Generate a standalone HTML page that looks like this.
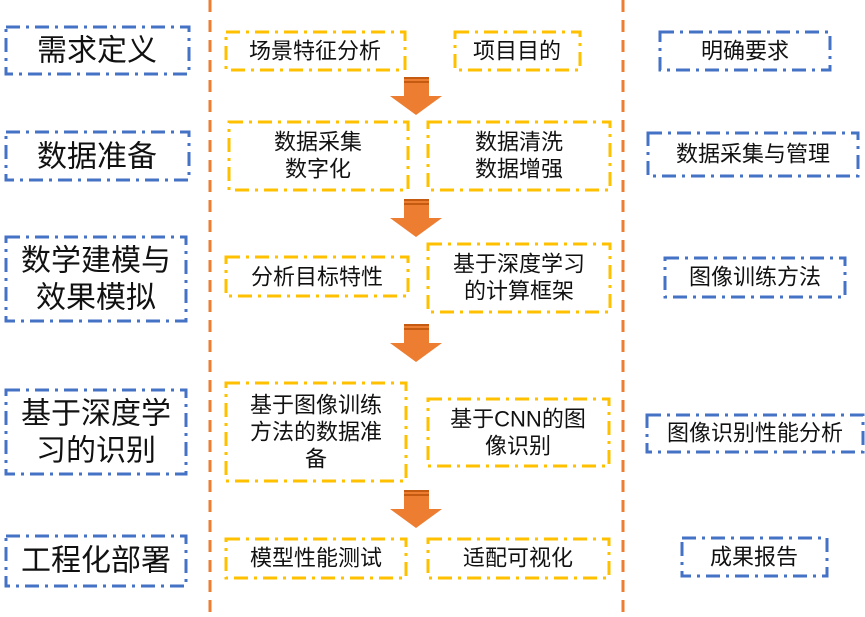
<!DOCTYPE html>
<html><head><meta charset="utf-8"><style>
body{margin:0;width:865px;height:612px;background:#fff;overflow:hidden}
svg text{font-family:"Liberation Sans","Noto Sans CJK SC",sans-serif;fill:#111;text-anchor:middle;dominant-baseline:central}
.b{fill:none;stroke:#4472C4;stroke-width:3;stroke-dasharray:14 6 3 6}
.y{fill:none;stroke:#FFC000;stroke-width:3;stroke-dasharray:14 6 3 6}
.L{font-size:30px}.M{font-size:22px}
</style></head><body>
<svg width="865" height="612" viewBox="0 0 865 612">
<line x1="210" y1="0" x2="210" y2="612" stroke="#ED7D31" stroke-width="3" stroke-dasharray="12 8"/>
<line x1="623" y1="0" x2="623" y2="612" stroke="#ED7D31" stroke-width="3" stroke-dasharray="12 8"/>

<rect class="b" x="6" y="27" width="183" height="47"/><text class="L" x="97" y="51">需求定义</text>
<rect class="b" x="6" y="132" width="183" height="48"/><text class="L" x="97" y="157">数据准备</text>
<rect class="b" x="6" y="237" width="180" height="84"/><text class="L" x="96" y="261">数学建模与</text><text class="L" x="96" y="298">效果模拟</text>
<rect class="b" x="6" y="390" width="180" height="84"/><text class="L" x="96" y="414">基于深度学</text><text class="L" x="96" y="451">习的识别</text>
<rect class="b" x="6" y="536" width="180" height="50"/><text class="L" x="96" y="561">工程化部署</text>

<rect class="y" x="226" y="32" width="179" height="38"/><text class="M" x="315" y="51">场景特征分析</text>
<rect class="y" x="455" y="32" width="125" height="38"/><text class="M" x="517" y="51">项目目的</text>
<rect class="y" x="229" y="122" width="179" height="68"/><text class="M" x="318" y="142">数据采集</text><text class="M" x="318" y="169">数字化</text>
<rect class="y" x="428" y="122" width="182" height="68"/><text class="M" x="519" y="142">数据清洗</text><text class="M" x="519" y="169">数据增强</text>
<rect class="y" x="226" y="257" width="182" height="39"/><text class="M" x="317" y="277">分析目标特性</text>
<rect class="y" x="428" y="244" width="182" height="68"/><text class="M" x="519" y="264">基于深度学习</text><text class="M" x="519" y="291">的计算框架</text>
<rect class="y" x="226" y="383" width="180" height="98"/><text class="M" x="316" y="405">基于图像训练</text><text class="M" x="316" y="432">方法的数据准</text><text class="M" x="316" y="459">备</text>
<rect class="y" x="428" y="399" width="181" height="67"/><text class="M" x="518" y="419">基于CNN的图</text><text class="M" x="518" y="446">像识别</text>
<rect class="y" x="226" y="539" width="180" height="39"/><text class="M" x="316" y="558">模型性能测试</text>
<rect class="y" x="428" y="539" width="181" height="39"/><text class="M" x="518" y="558">适配可视化</text>

<rect class="b" x="660" y="32" width="170" height="38"/><text class="M" x="745" y="51">明确要求</text>
<rect class="b" x="648" y="133" width="210" height="43"/><text class="M" x="753" y="154">数据采集与管理</text>
<rect class="b" x="665" y="258" width="180" height="39"/><text class="M" x="755" y="277">图像训练方法</text>
<rect class="b" x="647" y="415" width="216" height="37"/><text class="M" x="755" y="433">图像识别性能分析</text>
<rect class="b" x="682" y="538" width="145" height="38"/><text class="M" x="754" y="557">成果报告</text>

<g id="a">
<polygon points="404,77 429,77 429,96 442,96 416,115 390,96 404,96" fill="#ED7D31"/>
<rect x="404" y="77" width="25" height="2" fill="#C55A11"/>
<rect x="404" y="81" width="25" height="2" fill="#C55A11"/>
</g>
<use href="#a" y="122"/>
<use href="#a" y="247"/>
<use href="#a" y="413"/>
</svg>
</body></html>
